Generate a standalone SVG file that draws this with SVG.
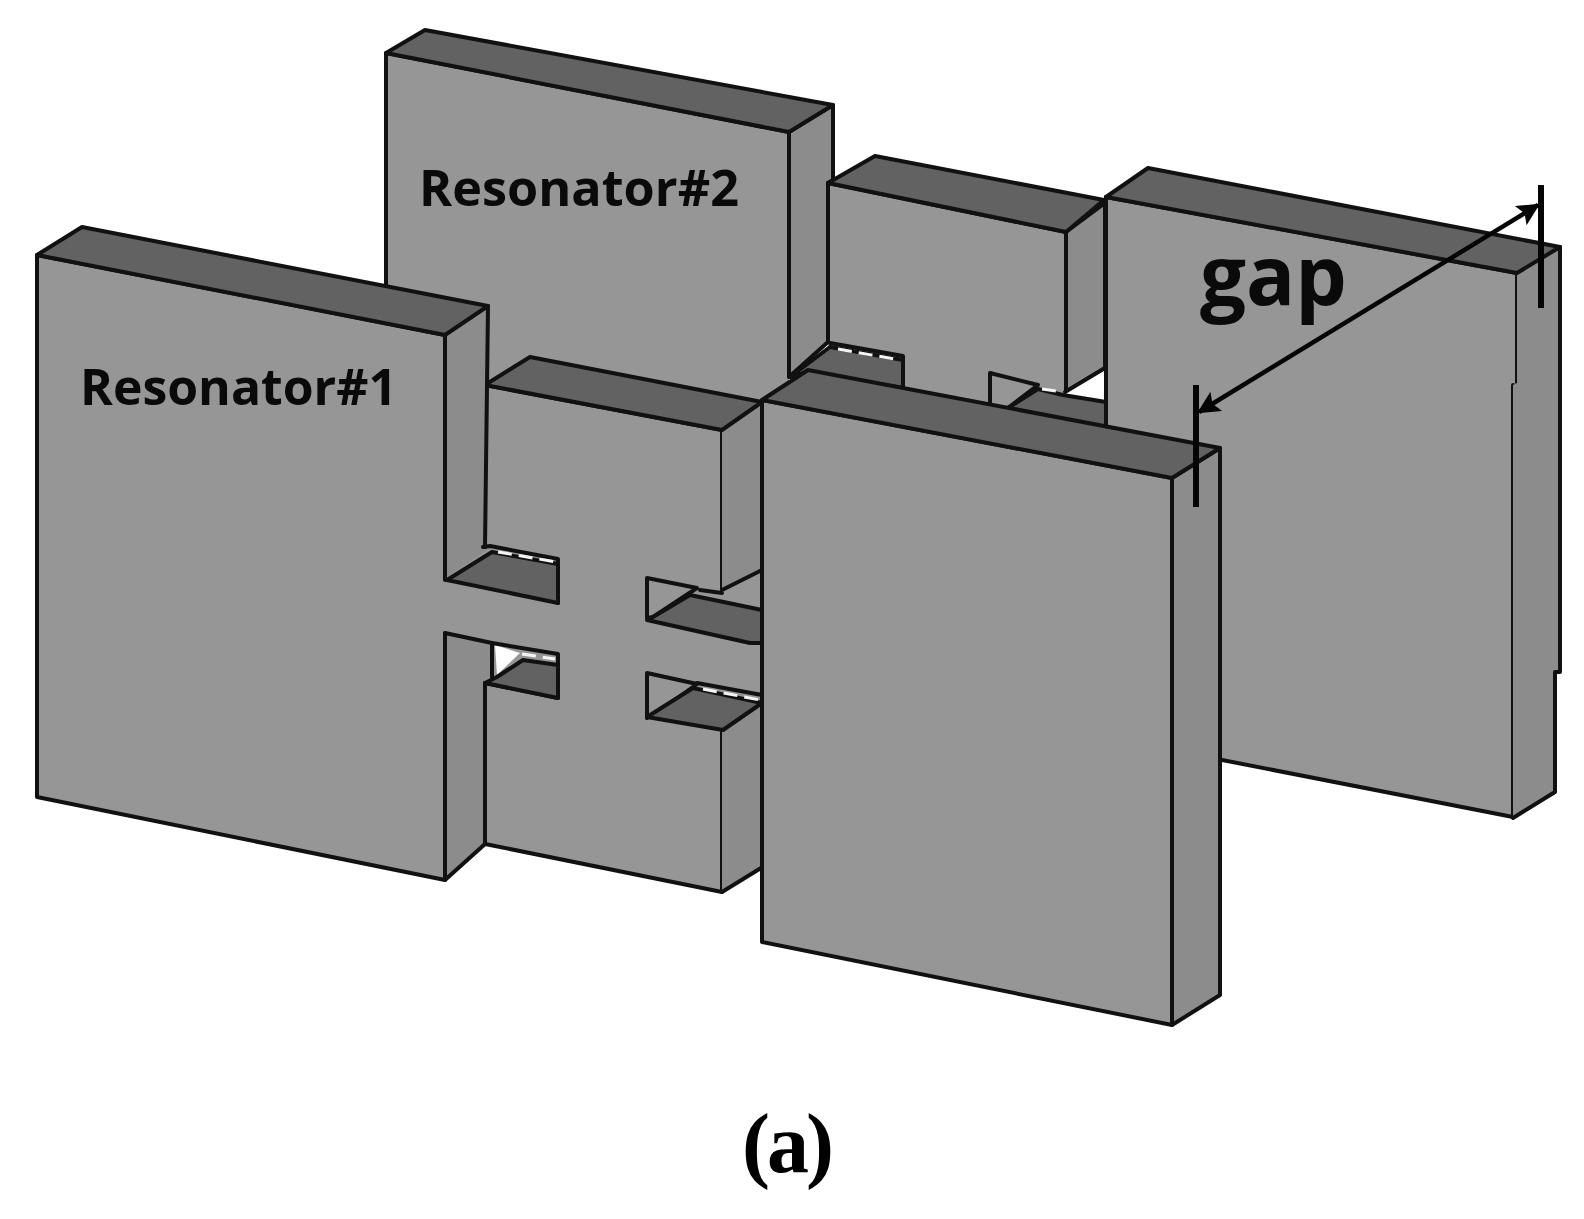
<svg xmlns="http://www.w3.org/2000/svg" width="1584" height="1219" viewBox="0 0 1584 1219">
<style>
.f{fill:#969696}
.t{fill:#626262}
.s{fill:#8c8c8c}
.w{fill:#fff}
polygon,polyline,line{stroke:#111;stroke-width:4;stroke-linejoin:round;stroke-linecap:round}
polyline{fill:none}
.n{stroke:none}
.slit{stroke:#f4f4f4;stroke-width:3;stroke-dasharray:14 7;stroke-linecap:butt}
.lbl{font-family:"Open Sans","Noto Sans",sans-serif;font-weight:700;fill:#0a0a0a}
.dim{stroke:#050505;stroke-linecap:butt}
</style>
<defs>
<marker id="head" viewBox="0 0 10 10" refX="9" refY="5" markerWidth="6" markerHeight="5" markerUnits="strokeWidth" orient="auto-start-reverse"><path d="M0 0L10 5L0 10L2 5Z" fill="#050505"/></marker>
</defs>
<rect width="1584" height="1219" fill="#fff"/>

<g id="resonator2-left-plate">
<polygon class="f n" points="386,53 789,132 789,430 386,400"/>
<polyline points="386,290 386,53 789,132 789,377"/>
<polygon class="s" points="789,132 833,105 833,180 828,183 828,342 789,377"/>
<polygon class="t" points="386,53 425,30 833,105 789,132"/>
</g>

<g id="resonator2-middle-block">
<polygon class="f n" points="828,183 1066,232 1066,430 828,390"/>
<polyline points="828,183 1066,232"/>
<line x1="828" y1="183" x2="828" y2="342"/>
<polygon class="s" points="1066,232 1105,203 1105,368 1066,392"/>
<polygon class="t" points="828,183 875,156 1104,200 1066,232"/>
<polygon class="w n" points="1063,393 1105,370 1105,400 1083,400"/>
<line x1="1065" y1="392" x2="1105" y2="368"/>
<polygon class="t" points="790,377 830,347 903,360 903,388 808,372"/>
<polyline points="830,343 903,356 903,388"/>
<line class="slit" x1="838" y1="349" x2="900" y2="360"/>
<polygon class="f" points="990,373 1038,385 1008,408 990,407"/>
<polygon class="t" points="1008,408 1038,389 1063,395 1106,402 1106,428"/>
<line class="slit" x1="1042" y1="389" x2="1062" y2="392"/>
</g>

<g id="resonator2-right-plate">
<polygon class="f n" points="1106,197 1517,273 1513,817 1106,737"/>
<polyline points="1106,197 1517,273 1517,383"/>
<polyline points="1513,385 1513,817 1222,760"/>
<line x1="1106" y1="197" x2="1106" y2="430"/>
<polygon class="s n" points="1517,273 1560,247 1560,672 1555,672 1555,792 1513,818 1513,385 1517,383"/>
<polyline points="1560,247 1560,672 1555,672 1555,792 1513,818"/>
<polygon class="t" points="1106,197 1148,168 1560,247 1517,273"/>
</g>

<g id="coupling-center-block">
<polygon class="f n" points="485,385 722,430 722,892 485,844"/>
<polyline points="485,385 722,430 722,590"/>
<polyline points="722,730 722,892 485,844"/>
<polygon class="s n" points="722,430 762,402 762,868 722,892"/>
<polyline points="762,402 762,570"/>
<polyline points="722,892 761,868"/>
<polygon class="t" points="485,385 530,357 762,402 722,430"/>
</g>

<g id="resonator1-plate">
<polygon class="f n" points="37,255 445,335 445,880 37,797"/>
<polygon class="s n" points="445,335 488,306 485,547 490,548 447,580 445,580"/>
<polygon class="s n" points="445,633 492,643 490,683 485,683 485,844 445,880"/>
<polygon class="f n" points="442,580 490,548 722,590 762,570 762,703 722,730 492,677 492,643 442,633"/>
<polyline points="445,580 445,335 37,255 37,797 445,880 445,633"/>
<polyline points="488,306 485,547"/>
<polyline points="485,683 485,844 445,880"/>
<polygon class="t" points="37,255 82,227 488,306 445,335"/>
</g>

<g id="coupling-slots">
<polygon class="t" points="447,580 492,552 558,564 558,603"/>
<polyline points="483,547 490,546 558,559 558,603"/>
<line class="slit" x1="498" y1="552" x2="556" y2="562"/>

<polygon class="w n" points="495,645 520,653 497,675"/>
<polyline points="445,633 492,643 558,654 558,698 485,683"/>
<polygon class="t" points="497,677 523,660 558,665 558,698 485,683"/>
<line class="slit" x1="522" y1="654" x2="555" y2="659"/>
<line x1="492" y1="643" x2="492" y2="677"/>

<polygon class="f" points="647,578 697,588 653,617 647,618"/>
<polygon class="t" points="653,617 690,595 762,610 762,643 750,643 647,620"/>
<line x1="722" y1="590" x2="762" y2="570"/>
<line x1="700" y1="590" x2="722" y2="593"/>

<polygon class="f" points="647,673 697,684 657,713 647,718"/>
<polygon class="t" points="647,717 693,688 762,703 723,730"/>
<polyline points="697,683 762,695 762,703"/>
<line class="slit" x1="703" y1="689" x2="760" y2="700"/>
</g>

<g id="front-plate">
<polygon class="f" points="762,400 1172,478 1172,1025 762,942"/>
<polygon class="s" points="1172,478 1220,448 1220,995 1172,1025"/>
<polygon class="t" points="762,400 808,370 1220,448 1172,478"/>
</g>

<g id="connectors">
<line class="dim" x1="1541" y1="185" x2="1541" y2="308" style="stroke-width:6"/>
<line class="dim" x1="1196" y1="385" x2="1196" y2="507" style="stroke-width:6"/>
<line class="dim" x1="1199" y1="412" x2="1538" y2="205" style="stroke-width:4.5" marker-start="url(#head)" marker-end="url(#head)"/>
</g>

<g id="labels">
<text class="lbl" x="80" y="405" font-size="50" textLength="317" lengthAdjust="spacingAndGlyphs">Resonator#1</text>
<text class="lbl" x="419" y="206" font-size="50" textLength="320" lengthAdjust="spacingAndGlyphs">Resonator#2</text>
<text class="lbl" x="1200" y="305" font-size="82" textLength="147" lengthAdjust="spacingAndGlyphs">gap</text>
<text x="742" y="1172" font-size="84" fill="#000" font-family="'Liberation Serif',serif" font-weight="700" letter-spacing="-3">(a)</text>
</g>
</svg>
